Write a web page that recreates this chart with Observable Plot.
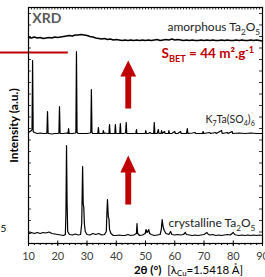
<!DOCTYPE html>
<html><head><meta charset="utf-8">
<script src="https://cdn.jsdelivr.net/npm/d3@7"></script>
<script src="https://cdn.jsdelivr.net/npm/@observablehq/plot@0.6"></script>
<style>body{margin:0;background:#fff} svg{display:block}</style>
</head><body><div id="chart"></div>
<script>
// 2θ (deg) vs stacked intensity (arbitrary units, offset per pattern)
const amorphous = [[10,206],[11,205.5],[12,206.5],[13,205.5],[14,206],[15,205],[16,205.5],[17,206],[18,205.5],[19,206.5],[20,206],[21,206.5],[22,207],[23,207.5],[24,208],[25,207.5],[26,208.5],[27,208.5],[28,209],[29,208.5],[30,208],[31,207],[32,206.5],[33,205.5],[34,205],[35,204.5],[36,205],[37,204],[38,204.5],[39,203.5],[40,204],[41,203.5],[42,203],[43,203.5],[44,203],[45,203.5],[46,203],[47,203.5],[48,203],[49,203.5],[50,203],[51,203.5],[52,203],[53,203.5],[54,204],[55,203],[56,203.5],[57,204],[58,203.5],[59,204.5],[60,203.5],[61,204],[62,203.5],[63,203],[64,203.5],[65,203],[66,203.5],[67,203],[68,203],[69,203.5],[70,203],[71,203.5],[72,203],[73,203.5],[74,203],[75,203],[76,203.5],[77,203],[78,203.5],[79,203],[80,203],[81,203.5],[82,203],[83,203.5],[84,203],[85,203],[86,203.5],[87,203],[88,203.5],[89,203],[90,202.5]];

const k7ta = [[10,111],[10.5,112],[11,113],[11.2,114],[11.4,183],[11.6,112],[12,111],[13,110],[14,110.5],[15,110],[16,110],[16.3,110.5],[16.5,132],[16.7,110],[17,110],[18,109.5],[19,110],[20,110],[20.4,110.5],[20.6,137],[20.8,110],[21,110],[22,110],[23,110.5],[23.5,110],[23.7,115],[23.9,110],[25,110],[26,110.5],[26.2,111],[26.4,192],[26.6,111],[27,110],[28,110],[29,110],[30,110],[31,110.5],[31.3,111],[31.5,154],[31.7,111],[32,110],[33,110],[33.7,110],[33.9,116],[34.1,110],[35,110],[35.4,110],[35.6,113],[35.8,110],[36,110.5],[37,110],[37.5,110],[37.7,119],[37.9,110],[39,110],[39.5,110],[39.7,119],[39.9,110],[40.5,110],[41.2,110],[41.4,120],[41.6,110],[42.5,110],[43.2,110.5],[43.4,121],[43.6,110],[45,110],[46.7,110],[46.9,114],[47.1,110],[48,110],[49.9,110],[50.1,113],[50.3,110],[51,110],[51.5,111],[52,110],[52.8,110],[53,121],[53.2,110],[54,110],[54.4,114],[54.6,110],[55.3,110],[55.5,113],[55.7,110],[56.5,112],[56.7,110],[57.8,110],[58,113],[58.2,110],[59,110],[60,112],[60.2,110],[61,110],[62,112],[62.2,110],[64,110],[64.3,115],[64.5,110],[66,110.5],[67,111],[67.2,110],[69.5,110],[69.7,112],[69.9,110],[72,111],[72.2,110],[74,111],[74.2,110],[76,113],[76.2,110],[78,111],[78.2,110],[79.6,112],[79.8,110],[82,110.5],[84,110],[86,110.5],[88,110],[90,110]];

const crystalline = [[10,11],[10.5,10],[11,11],[12,10],[13,11],[14,10],[15,11],[16,10.5],[17,11.5],[18,10],[19,9.5],[20,9],[21,8.5],[22,8],[22.6,9],[22.8,30],[23.0,98],[23.2,40],[23.4,12],[24,9],[25,8.5],[26,9.5],[27,8.5],[27.8,9],[28.2,20],[28.5,77],[28.7,40],[28.9,36],[29.1,20],[29.4,12],[30,9],[31,8.5],[32,10],[33,9],[34,10],[35,8.5],[36,9],[36.6,12],[36.8,30],[37.0,44],[37.3,26],[37.5,25],[37.7,14],[38.2,10],[39,8],[40,8],[41,8.5],[42,8],[43,8],[44,9],[45,8],[46,8.5],[46.9,10],[47.1,20],[47.3,10],[48,8],[49,8.5],[49.9,10],[50.2,14],[50.5,11],[50.8,12],[51.1,14],[51.4,10],[52,9],[53,8],[54,8.5],[55,9],[55.4,14],[55.7,24],[56.0,17],[56.4,13],[57,10],[58,9],[58.6,12],[59,9],[60,8.5],[61,9],[62,8.5],[63,9],[63.6,11],[64,9],[65,8.5],[66,8],[67,8.5],[68,8],[69,8.5],[70,9],[71,11],[71.5,9],[72,8.5],[73,9],[74,8],[75,8.5],[76,8],[77,8.5],[78,9],[79,8.5],[80,11],[80.5,9],[81,8.5],[82,8],[83,8.5],[84,8],[85,8.5],[86,8],[87,8.5],[88,8],[89,8.5],[90,8]];

// red up-arrows (polygon outlines in data units)
const arrow1 = [[43.1,135],[43.1,167],[41.4,167],[44.1,183],[46.8,167],[45.1,167],[45.1,135]];
const arrow2 = [[43.1,39],[43.1,71],[41.4,71],[44.1,88],[46.8,71],[45.1,71],[45.1,39]];

const xTicks = [10,20,30,40,50,60,70,80,90];
const xMinor = d3.range(10, 91, 2);
const xTop = d3.range(10, 91, 1);
const yTicks = d3.range(11.5, 236, 11.5);
const redLineY = [191];

const RED = "#c00000";
const FONT = "Lato, sans-serif";

const plot = Plot.plot({
  width: 265, height: 277,
  marginLeft: 28, marginRight: 3, marginTop: 7, marginBottom: 34,
  style: {fontFamily: FONT, fontSize: "11px", color: "#404040", background: "white"},
  x: {domain: [10, 90], ticks: xTicks, tickSize: 0, tickPadding: 9, label: null},
  y: {domain: [0, 236], axis: null},
  marks: [
    Plot.ruleY(redLineY, {x1: 0, x2: 23.6, stroke: RED, strokeWidth: 2}),
    Plot.line(amorphous, {x: d => d[0], y: d => d[1], stroke: "black", strokeWidth: 1.4}),
    Plot.line(k7ta, {x: d => d[0], y: d => d[1], stroke: "black", strokeWidth: 1.2}),
    Plot.line(crystalline, {x: d => d[0], y: d => d[1], stroke: "black", strokeWidth: 1.2}),
    Plot.line(arrow1, {x: d => d[0], y: d => d[1], fill: RED, stroke: "none"}),
    Plot.line(arrow2, {x: d => d[0], y: d => d[1], fill: RED, stroke: "none"}),
    Plot.frame({stroke: "black", strokeWidth: 1.2}),
    Plot.ruleX(xTicks, {x: d => d, y1: -3, y2: 2.5, stroke: "black"}),
    Plot.ruleX(xMinor, {x: d => d, y1: -2, y2: 0, stroke: "black"}),
    Plot.ruleX(xTop, {x: d => d, y1: 236, y2: 233.5, stroke: "black", strokeWidth: 0.8}),
    Plot.ruleY(yTicks, {y: d => d, x1: 10, x2: 11, stroke: "black", strokeWidth: 0.8}),
    Plot.ruleY(yTicks, {y: d => d, x1: 89, x2: 90, stroke: "black", strokeWidth: 0.8}),
    Plot.text(["XRD"], {x: 11.3, y: 225, text: d => d, textAnchor: "start", fontSize: 14, fontWeight: "bold", fill: "#595959"}),
    Plot.text(["amorphous Ta2O5"], {x: 57.5, y: 216, text: d => d, textAnchor: "start", fontSize: 12, fill: "#222"}),
    Plot.text(["SBET = 44 m².g-1"], {x: 55.5, y: 189.5, text: d => d, textAnchor: "start", fontSize: 13.5, fontWeight: "bold", fill: RED}),
    Plot.text(["K7Ta(SO4)6"], {x: 70.5, y: 123.5, text: d => d, textAnchor: "start", fontSize: 10.5, fill: "#222"}),
    Plot.text(["crystalline Ta2O5"], {x: 57.9, y: 20, text: d => d, textAnchor: "start", fontSize: 12, fill: "#222"}),
    Plot.text(["Intensity (a.u.)"], {x: 5.2, y: 118, text: d => d, rotate: -90, fontSize: 12, fontWeight: "bold", fill: "black"}),
    Plot.text(["5"], {x: 1.4, y: 15, text: d => d, fontSize: 10, fill: "black"}),
    Plot.text(["2θ (°)|[λCu=1.5418 Å]"], {x: 64.7, y: -26.5, text: d => d, fontSize: 11.5, fill: "black"})
  ]
});

function richify(svg, plain, segs, fs, subShift = 0.28) {
  d3.select(svg).selectAll("text").filter(function () { return this.textContent === plain; }).each(function () {
    const t = d3.select(this);
    t.text(null);
    let shift = 0;
    for (const [s, k, w] of segs) {
      const target = k === "sub" ? subShift * fs : k === "sup" ? -0.38 * fs : 0;
      const ts = t.append("tspan").text(s).attr("dy", target - shift);
      if (k) ts.attr("font-size", 0.68 * fs);
      if (w) ts.attr("font-weight", w);
      shift = target;
    }
  });
}
richify(plot, "amorphous Ta2O5", [["amorphous Ta"], ["2", "sub"], ["O"], ["5", "sub"]], 12);
richify(plot, "crystalline Ta2O5", [["crystalline Ta"], ["2", "sub"], ["O"], ["5", "sub"]], 12);
richify(plot, "K7Ta(SO4)6", [["K"], ["7", "sub"], ["Ta(SO"], ["4", "sub"], [")"], ["6", "sub"]], 10.5);
richify(plot, "SBET = 44 m².g-1", [["S"], ["BET", "sub"], [" = 44 m².g"], ["-1", "sup"]], 13.5);
richify(plot, "2θ (°)|[λCu=1.5418 Å]", [["2θ (°)", "", "bold"], ["\u00a0\u00a0[λ", "", "normal"], ["Cu", "sub", "normal"], ["=1.5418 Å]", "", "normal"]], 11.5, 0.2);

document.getElementById("chart").appendChild(plot);
</script>
</body></html>
